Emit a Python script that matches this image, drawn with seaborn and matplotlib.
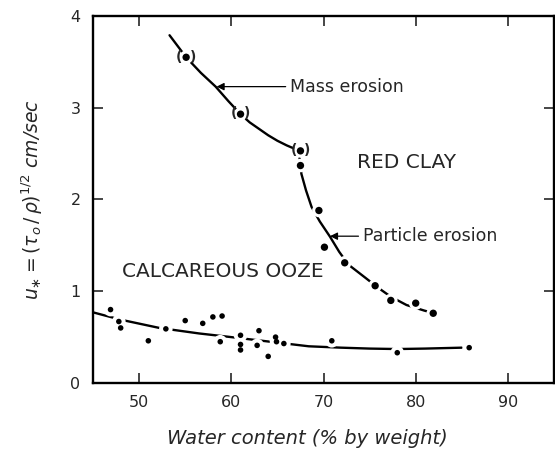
import matplotlib
matplotlib.use("Agg")
import matplotlib.pyplot as plt
import seaborn as sns

# Red clay, mass erosion (bracketed points)
mass_x = [55.1, 61.0, 67.5]
mass_y = [3.55, 2.93, 2.53]

# Red clay, particle erosion
part_x = [67.5, 69.5, 70.1, 72.3, 75.6, 77.3, 80.0, 81.9]
part_y = [2.37, 1.88, 1.48, 1.31, 1.06, 0.90, 0.87, 0.76]

# Calcareous ooze
ooze_x = [46.9, 47.8, 48.0, 51.0, 52.9, 55.0, 56.9, 58.0, 59.0, 58.8, 61.0,
          61.0, 61.0, 63.0, 62.8, 64.0, 64.8, 64.9, 65.7, 70.9, 78.0, 85.8]
ooze_y = [0.80, 0.67, 0.60, 0.46, 0.59, 0.68, 0.65, 0.72, 0.73, 0.45, 0.52,
          0.42, 0.36, 0.57, 0.41, 0.29, 0.50, 0.45, 0.43, 0.46, 0.33, 0.385]

# Hand-fitted trend curves
mass_curve_x = [53.3, 54.2, 55.1, 56.7, 58.3, 59.7, 61.0, 62.0, 63.0, 64.0, 65.0, 66.0, 67.4]
mass_curve_y = [3.79, 3.67, 3.55, 3.38, 3.23, 3.07, 2.93, 2.84, 2.77, 2.70, 2.64, 2.59, 2.53]
part_curve_x = [67.4, 67.6, 68.1, 68.7, 69.6, 70.7, 71.7, 72.7, 74.5, 75.9, 77.3, 79.0, 80.9, 82.0]
part_curve_y = [2.45, 2.28, 2.10, 1.92, 1.76, 1.595, 1.43, 1.29, 1.15, 1.04, 0.94, 0.85, 0.79, 0.76]
ooze_curve_x = [45.0, 48.0, 52.2, 56.5, 60.0, 64.2, 68.4, 71.9, 75.0, 78.0, 81.0, 85.0]
ooze_curve_y = [0.77, 0.69, 0.60, 0.54, 0.50, 0.45, 0.40, 0.385, 0.375, 0.37, 0.375, 0.385]

xticks = [50, 60, 70, 80, 90]
yticks = [0, 1, 2, 3, 4]

sns.set_style("ticks")
plt.rcParams["font.family"] = ["DejaVu Sans"]

fig = plt.figure(figsize=(5.55, 4.54), dpi=100)
ax = fig.add_axes([0.1676, 0.1564, 0.8306, 0.8084])

curves = [(mass_curve_x, mass_curve_y), (part_curve_x, part_curve_y),
          (ooze_curve_x, ooze_curve_y)]
for cx, cy in curves:
    sns.lineplot(x=cx, y=cy, sort=False, estimator=None, color="black",
                 linewidth=1.7, ax=ax, zorder=2)

all_x = mass_x + part_x + ooze_x
all_y = mass_y + part_y + ooze_y
# white halo breaks the curves around each data point
sns.scatterplot(x=all_x, y=all_y, s=95, color="white", edgecolor="none",
                ax=ax, zorder=3)
sns.scatterplot(x=part_x + mass_x, y=part_y + mass_y, s=28, color="black",
                edgecolor="none", ax=ax, zorder=4)
sns.scatterplot(x=ooze_x, y=ooze_y, s=16, color="black", edgecolor="none",
                ax=ax, zorder=4)

# brackets around the mass-erosion points
for mx, my in zip(mass_x, mass_y):
    for sym, dx in (("(", -5.0), (")", 5.0)):
        ax.annotate(sym, xy=(mx, my), xytext=(dx, 0.5),
                    textcoords="offset points", ha="center", va="center",
                    fontsize=10, fontweight="bold", zorder=5)

ax.annotate("Mass erosion", xy=(58.4, 3.23), xytext=(66.4, 3.23),
            fontsize=12.5, va="center", ha="left",
            arrowprops=dict(arrowstyle="-|>", color="black", lw=0.9,
                            mutation_scale=11, shrinkA=1, shrinkB=0))
ax.annotate("Particle erosion", xy=(70.7, 1.60), xytext=(74.3, 1.60),
            fontsize=12.5, va="center", ha="left",
            arrowprops=dict(arrowstyle="-|>", color="black", lw=0.9,
                            mutation_scale=11, shrinkA=1, shrinkB=0))
ax.text(79.0, 2.40, "RED CLAY", fontsize=14.5, ha="center", va="center")
ax.text(59.1, 1.21, "CALCAREOUS OOZE", fontsize=14.5, ha="center", va="center")

ax.set_xlim(45, 95)
ax.set_ylim(0, 4)
ax.set_xticks(xticks)
ax.set_yticks(yticks)
ax.tick_params(direction="in", length=7, width=1.2, labelsize=11.5,
               top=True, right=True, pad=9)
for sp in ax.spines.values():
    sp.set_visible(True)
    sp.set_linewidth(1.7)
    sp.set_color("black")

ax.set_xlabel("Water content (% by weight)", fontsize=14, style="italic")
ax.xaxis.set_label_coords(0.464, -0.125)
ax.set_ylabel(r"$u_{\ast}=(\tau_o\,/\,\rho)^{1/2}$ cm/sec", fontsize=13.5,
              style="italic", labelpad=18)

fig.savefig("out.png", dpi=100, facecolor="white")
